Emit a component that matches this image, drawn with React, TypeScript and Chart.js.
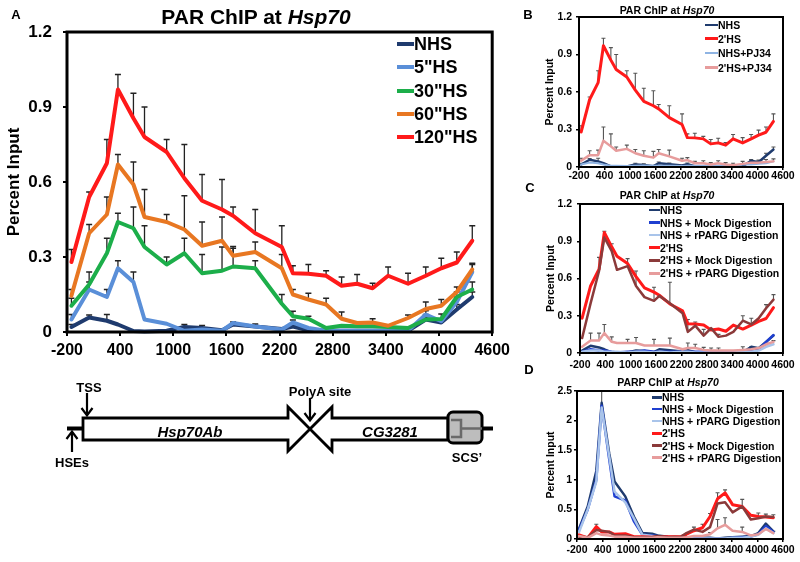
import React, { useEffect, useRef } from "react";
import { Chart, registerables } from "chart.js";

Chart.register(...registerables);

const FONT = 'Arial, "Liberation Sans", Helvetica, sans-serif';

// ---------- shared axes ----------
const positions = [-150, 50, 250, 375, 550, 675, 925, 1125, 1325, 1550, 1675, 1925, 2225, 2350, 2525, 2725, 2900, 3075, 3250, 3425, 3650, 3850, 4025, 4200, 4375];
const xTicks = [-200, 400, 1000, 1600, 2200, 2800, 3400, 4000, 4600];
const yTicksPAR = [0, 0.3, 0.6, 0.9, 1.2];
const yTicksPARP = [0, 0.5, 1, 1.5, 2, 2.5];

// ---------- Panel A (also NHS / 2'HS in B, C) ----------
const nhsA = [0.02, 0.058, 0.045, 0.03, 0.004, 0.002, 0.005, 0.02, 0.016, 0.007, 0.03, 0.022, 0.012, 0.022, 0.007, 0.005, 0.005, 0.005, 0.005, 0.005, 0.005, 0.05, 0.038, 0.09, 0.14];
const hs5A = [0.05, 0.17, 0.14, 0.255, 0.2, 0.05, 0.033, 0.005, 0.01, 0.005, 0.036, 0.022, 0.01, 0.038, 0.016, 0.005, 0.005, 0.005, 0.005, 0.005, 0.005, 0.07, 0.043, 0.12, 0.24];
const hs30A = [0.105, 0.19, 0.315, 0.44, 0.415, 0.34, 0.27, 0.315, 0.235, 0.245, 0.262, 0.255, 0.113, 0.063, 0.053, 0.016, 0.025, 0.023, 0.023, 0.02, 0.016, 0.05, 0.052, 0.14, 0.17];
const hs60A = [0.145, 0.395, 0.47, 0.67, 0.59, 0.46, 0.44, 0.41, 0.345, 0.365, 0.305, 0.32, 0.255, 0.15, 0.13, 0.11, 0.053, 0.036, 0.038, 0.025, 0.056, 0.092, 0.105, 0.16, 0.25];
const hs120A = [0.28, 0.54, 0.675, 0.97, 0.855, 0.78, 0.72, 0.615, 0.525, 0.49, 0.465, 0.395, 0.34, 0.235, 0.233, 0.225, 0.185, 0.193, 0.175, 0.225, 0.193, 0.225, 0.255, 0.278, 0.365];

const errNhsA = [0.01, 0.01, 0.025, 0, 0, 0, 0, 0.01, 0.01, 0, 0.01, 0.01, 0, 0.01, 0, 0, 0, 0, 0, 0, 0, 0.01, 0.01, 0.02, 0.02];
const err5A = [0.02, 0.03, 0.03, 0.03, 0.04, 0, 0, 0, 0, 0, 0, 0, 0, 0.01, 0, 0, 0, 0, 0, 0, 0, 0.015, 0.01, 0.02, 0.03];
const err30A = [0.03, 0.05, 0.06, 0.035, 0.085, 0.085, 0.03, 0.06, 0.075, 0.095, 0.08, 0.03, 0.037, 0.02, 0.01, 0, 0, 0, 0, 0, 0, 0.02, 0.02, 0.02, 0.03];
const err60A = [0.025, 0.035, 0.07, 0.04, 0.09, 0.11, 0.03, 0.135, 0.095, 0.095, 0.03, 0.04, 0.055, 0.02, 0.025, 0.025, 0.027, 0, 0.015, 0, 0.012, 0.028, 0.025, 0.02, 0.025];
const err120A = [0.05, 0.02, 0.095, 0.06, 0.1, 0.12, 0.05, 0.135, 0.105, 0.12, 0.035, 0.095, 0.085, 0.03, 0.037, 0.02, 0.035, 0.037, 0.02, 0.035, 0.042, 0.035, 0.04, 0.042, 0.06];

// ---------- Panel B ----------
const nhsPJ34 = [0.02, 0.035, 0.03, 0.02, 0.01, 0.01, 0.008, 0.01, 0.012, 0.01, 0.01, 0.01, 0.008, 0.01, 0.01, 0.01, 0.01, 0.01, 0.008, 0.01, 0.02, 0.02, 0.025, 0.03, 0.045];
const hsPJ34 = [0.05, 0.095, 0.095, 0.21, 0.165, 0.13, 0.145, 0.11, 0.09, 0.075, 0.11, 0.085, 0.05, 0.055, 0.03, 0.03, 0.02, 0.03, 0.02, 0.015, 0.025, 0.035, 0.035, 0.04, 0.045];
const errPJ34 = [0.02, 0.035, 0.04, 0.11, 0.1, 0.03, 0.03, 0.03, 0.04, 0.05, 0.03, 0.05, 0.02, 0.02, 0.015, 0.02, 0.015, 0.02, 0.015, 0.015, 0.02, 0.02, 0.02, 0.02, 0.02];

// ---------- Panel C ----------
const nhsMockC = [0.01, 0.03, 0.02, 0.02, 0.01, 0.005, 0.01, 0.01, 0.02, 0.01, 0.01, 0.01, 0.01, 0.01, 0.01, 0.01, 0.01, 0.005, 0.01, 0.01, 0.01, 0.02, 0.03, 0.09, 0.145];
const nhsRpargC = [0.01, 0.02, 0.02, 0.01, 0.01, 0.01, 0.005, 0.01, 0.01, 0.005, 0.01, 0.005, 0.01, 0.01, 0.005, 0.005, 0.005, 0.005, 0.005, 0.005, 0.01, 0.01, 0.02, 0.05, 0.07];
const hsMockC = [0.12, 0.4, 0.66, 0.93, 0.82, 0.67, 0.7, 0.54, 0.45, 0.42, 0.46, 0.4, 0.32, 0.17, 0.22, 0.14, 0.2, 0.13, 0.14, 0.17, 0.26, 0.23, 0.28, 0.36, 0.43];
const errMockC = [0, 0, 0.11, 0.05, 0.06, 0, 0.06, 0.12, 0, 0.11, 0, 0.17, 0, 0.1, 0.03, 0.05, 0, 0.02, 0, 0, 0.04, 0.05, 0, 0.03, 0.04];
const hsRpargC = [0.05, 0.1, 0.1, 0.16, 0.09, 0.08, 0.08, 0.08, 0.06, 0.06, 0.06, 0.06, 0.03, 0.04, 0.04, 0.025, 0.02, 0.02, 0.02, 0.02, 0.025, 0.03, 0.04, 0.07, 0.09];
const errRpargC = [0, 0.06, 0.06, 0.07, 0.04, 0, 0.03, 0.045, 0, 0.05, 0, 0.06, 0, 0.04, 0.03, 0.02, 0.02, 0.02, 0, 0, 0.025, 0.02, 0, 0.01, 0.01];

// ---------- Panel D ----------
const nhsD = [0.18, 0.55, 1.15, 2.3, 1.45, 0.97, 0.72, 0.38, 0.1, 0.09, 0.06, 0.04, 0.03, 0.02, 0.02, 0.02, 0.02, 0.01, 0.02, 0.03, 0.04, 0.05, 0.1, 0.26, 0.13];
const errNhsD = [0, 0, 0, 0.2, 0, 0, 0, 0, 0, 0, 0, 0, 0, 0, 0, 0, 0, 0, 0, 0, 0, 0, 0, 0, 0];
const nhsMockD = [0.16, 0.5, 1.0, 2.25, 1.35, 0.72, 0.65, 0.3, 0.07, 0.06, 0.05, 0.03, 0.02, 0.02, 0.01, 0.01, 0.01, 0.01, 0.01, 0.02, 0.03, 0.04, 0.08, 0.22, 0.12];
const nhsRpargD = [0.12, 0.5, 0.97, 2.22, 1.4, 0.8, 0.62, 0.35, 0.07, 0.05, 0.04, 0.03, 0.02, 0.02, 0.01, 0.01, 0.01, 0.01, 0.01, 0.02, 0.02, 0.04, 0.07, 0.18, 0.1];
const hsD = [0.07, 0.02, 0.21, 0.12, 0.12, 0.08, 0.09, 0.04, 0.04, 0.03, 0.04, 0.04, 0.04, 0.08, 0.14, 0.19, 0.38, 0.68, 0.78, 0.58, 0.55, 0.4, 0.38, 0.37, 0.36];
const errHsD = [0, 0, 0.04, 0, 0, 0, 0, 0, 0, 0, 0, 0, 0, 0, 0.06, 0.06, 0.05, 0.1, 0.05, 0, 0.12, 0, 0.06, 0.05, 0.05];
const hsMockD = [0.04, 0.03, 0.15, 0.14, 0.12, 0.06, 0.06, 0.03, 0.03, 0.03, 0.05, 0.03, 0.04, 0.1, 0.16, 0.12, 0.2, 0.6, 0.62, 0.45, 0.55, 0.33, 0.35, 0.38, 0.37];
const hsRpargD = [0.05, 0.02, 0.1, 0.07, 0.06, 0.04, 0.04, 0.02, 0.02, 0.02, 0.03, 0.02, 0.02, 0.03, 0.05, 0.05, 0.08, 0.18, 0.24, 0.14, 0.12, 0.06, 0.08, 0.17, 0.1];
const errRpargD = [0, 0, 0, 0, 0, 0, 0, 0, 0, 0, 0, 0, 0, 0, 0, 0, 0.03, 0.15, 0.12, 0, 0.08, 0, 0, 0.03, 0.03];

// ---------- colours ----------
const C_NAVY = "#1f3b6e";
const C_LBLUE = "#5a8fd8";
const C_GREEN = "#1cae4a";
const C_ORANGE = "#e87722";
const C_RED = "#ff1a1a";
const C_PJLIGHT = "#8fb4e3";
const C_PINK = "#e79c9c";
const C_MOCKBLUE = "#1f3fd0";
const C_RPARGLIGHT = "#a9c4ea";
const C_BROWN = "#8b3a3a";

type Series = { label: string; data: number[]; color: string; width: number; err?: number[] };

const errorBarsPlugin = {
  id: "errorBars",
  beforeDatasetsDraw(chart: any, _args: any, opts: any) {
    const ctx = chart.ctx;
    const ys = chart.scales.y;
    chart.data.datasets.forEach((ds: any, di: number) => {
      if (!ds.err) return;
      const meta = chart.getDatasetMeta(di);
      ctx.save();
      ctx.strokeStyle = opts.color;
      ctx.lineWidth = opts.width;
      ds.err.forEach((e: number, i: number) => {
        if (!e) return;
        const pt = meta.data[i];
        const v = ds.data[i].y;
        const yTop = ys.getPixelForValue(v + e);
        ctx.beginPath();
        ctx.moveTo(pt.x, pt.y);
        ctx.lineTo(pt.x, yTop);
        ctx.moveTo(pt.x - opts.cap, yTop);
        ctx.lineTo(pt.x + opts.cap, yTop);
        ctx.stroke();
      });
      ctx.restore();
    });
  },
};

const framePlugin = {
  id: "frame",
  afterDraw(chart: any, _args: any, opts: any) {
    const { left, top, right, bottom } = chart.chartArea;
    const ctx = chart.ctx;
    ctx.save();
    ctx.strokeStyle = "#000";
    ctx.lineWidth = opts.width;
    ctx.strokeRect(left, top, right - left, bottom - top);
    ctx.restore();
  },
};

type PanelCfg = {
  canvas: { x: number; y: number; w: number; h: number };
  plot: { l: number; t: number; r: number; b: number };
  series: Series[];
  yTicks: number[];
  xFont: number;
  yFont: number;
  xPad: number;
  yPad: number;
  tickLen: number;
  tickWidth: number;
  yTitleFont: number;
  yTitlePad: number;
  frameWidth: number;
  errColor: string;
  errWidth: number;
  cap: number;
};

function buildConfig(p: PanelCfg): any {
  const { canvas, plot } = p;
  const yAxisW = plot.l - canvas.x;
  const padTop = plot.t - canvas.y;
  const padRight = canvas.x + canvas.w - plot.r;
  const xAxisH = canvas.y + canvas.h - plot.b;
  const n = p.series.length;
  return {
    type: "line",
    data: {
      datasets: p.series.map((s, si) => ({
        label: s.label,
        data: positions.map((x, i) => ({ x, y: s.data[i] })),
        borderColor: s.color,
        backgroundColor: s.color,
        borderWidth: s.width,
        pointRadius: 0,
        pointHoverRadius: 0,
        tension: 0,
        fill: false,
        borderJoinStyle: "round",
        borderCapStyle: "round",
        clip: 10,
        order: n - 1 - si,
        err: s.err,
      })),
    },
    options: {
      responsive: false,
      animation: false,
      devicePixelRatio: 1,
      events: [],
      layout: { padding: { left: 0, top: padTop, right: padRight, bottom: 0 } },
      plugins: {
        legend: { display: false },
        tooltip: { enabled: false },
        title: { display: false },
        errorBars: { color: p.errColor, width: p.errWidth, cap: p.cap },
        frame: { width: p.frameWidth },
      },
      scales: {
        x: {
          type: "linear",
          min: xTicks[0],
          max: xTicks[xTicks.length - 1],
          afterBuildTicks: (s: any) => {
            s.ticks = xTicks.map((v) => ({ value: v }));
          },
          afterFit: (s: any) => {
            s.height = xAxisH;
          },
          ticks: {
            autoSkip: false,
            maxRotation: 0,
            minRotation: 0,
            color: "#000",
            padding: p.xPad,
            font: { family: FONT, size: p.xFont, weight: "bold" },
            callback: (v: any) => String(v),
          },
          grid: { display: true, drawOnChartArea: false, drawTicks: true, tickLength: p.tickLen, color: "#000", lineWidth: p.tickWidth },
          border: { display: false },
        },
        y: {
          type: "linear",
          min: 0,
          max: p.yTicks[p.yTicks.length - 1],
          afterBuildTicks: (s: any) => {
            s.ticks = p.yTicks.map((v) => ({ value: v }));
          },
          afterFit: (s: any) => {
            s.width = yAxisW;
          },
          ticks: {
            color: "#000",
            padding: p.yPad,
            font: { family: FONT, size: p.yFont, weight: "bold" },
            callback: (v: any) => String(v),
          },
          title: {
            display: true,
            text: "Percent Input",
            color: "#000",
            font: { family: FONT, size: p.yTitleFont, weight: "bold" },
            padding: { top: p.yTitlePad, bottom: 0 },
          },
          grid: { display: true, drawOnChartArea: false, drawTicks: true, tickLength: p.tickLen, color: "#000", lineWidth: p.tickWidth },
          border: { display: false },
        },
      },
    },
    plugins: [errorBarsPlugin, framePlugin],
  };
}

function ChartPanel({ cfg }: { cfg: PanelCfg }) {
  const ref = useRef<HTMLCanvasElement | null>(null);
  useEffect(() => {
    const chart = new Chart(ref.current as HTMLCanvasElement, buildConfig(cfg));
    return () => chart.destroy();
  }, []);
  const { x, y, w, h } = cfg.canvas;
  return <canvas ref={ref} width={w} height={h} style={{ position: "absolute", left: x, top: y, width: w, height: h }} />;
}

function Txt(props: { x: number; y: number; size: number; children: any; align?: "center" | "left"; italic?: boolean }) {
  const { x, y, size, children, align = "center", italic = false } = props;
  return (
    <div
      style={{
        position: "absolute",
        left: x,
        top: y,
        transform: align === "center" ? "translate(-50%,-50%)" : "translate(0,-50%)",
        fontSize: size,
        fontWeight: "bold",
        fontStyle: italic ? "italic" : "normal",
        whiteSpace: "nowrap",
        lineHeight: 1,
        color: "#000",
        fontFamily: FONT,
      }}
    >
      {children}
    </div>
  );
}

function Legend(props: { series: Series[]; x1: number; x2: number; ys: number[]; size: number }) {
  const { series, x1, x2, ys, size } = props;
  return (
    <>
      {series.map((s, i) => (
        <React.Fragment key={i}>
          <div style={{ position: "absolute", left: x1, top: ys[i] - s.width / 2, width: x2 - x1, height: s.width, background: s.color }} />
          <Txt x={x2} y={ys[i]} size={size} align="left">
            {s.label}
          </Txt>
        </React.Fragment>
      ))}
    </>
  );
}

const seriesA: Series[] = [
  { label: "NHS", data: nhsA, color: C_NAVY, width: 4, err: errNhsA },
  { label: '5"HS', data: hs5A, color: C_LBLUE, width: 4, err: err5A },
  { label: '30"HS', data: hs30A, color: C_GREEN, width: 4, err: err30A },
  { label: '60"HS', data: hs60A, color: C_ORANGE, width: 4, err: err60A },
  { label: '120"HS', data: hs120A, color: C_RED, width: 4, err: err120A },
];

const seriesB: Series[] = [
  { label: "NHS", data: nhsA, color: C_NAVY, width: 2.5, err: errNhsA },
  { label: "2'HS", data: hs120A, color: C_RED, width: 3, err: err120A },
  { label: "NHS+PJ34", data: nhsPJ34, color: C_PJLIGHT, width: 2 },
  { label: "2'HS+PJ34", data: hsPJ34, color: C_PINK, width: 2.5, err: errPJ34 },
];

const seriesC: Series[] = [
  { label: "NHS", data: nhsA, color: C_NAVY, width: 2.5 },
  { label: "NHS + Mock Digestion", data: nhsMockC, color: C_MOCKBLUE, width: 2.5 },
  { label: "NHS + rPARG Digestion", data: nhsRpargC, color: C_RPARGLIGHT, width: 2.5 },
  { label: "2'HS", data: hs120A, color: C_RED, width: 3 },
  { label: "2'HS + Mock Digestion", data: hsMockC, color: C_BROWN, width: 2.5, err: errMockC },
  { label: "2'HS + rPARG Digestion", data: hsRpargC, color: C_PINK, width: 2.5, err: errRpargC },
];

const seriesD: Series[] = [
  { label: "NHS", data: nhsD, color: C_NAVY, width: 2.5, err: errNhsD },
  { label: "NHS + Mock Digestion", data: nhsMockD, color: C_MOCKBLUE, width: 2.5 },
  { label: "NHS + rPARG Digestion", data: nhsRpargD, color: C_RPARGLIGHT, width: 2.5 },
  { label: "2'HS", data: hsD, color: C_RED, width: 3, err: errHsD },
  { label: "2'HS + Mock Digestion", data: hsMockD, color: C_BROWN, width: 2.5 },
  { label: "2'HS + rPARG Digestion", data: hsRpargD, color: C_PINK, width: 2.5, err: errRpargD },
];

const small = {
  xFont: 10.5,
  yFont: 10.5,
  tickLen: 3,
  tickWidth: 1.5,
  yTitleFont: 10.5,
  frameWidth: 2,
  errColor: "#555",
  errWidth: 1.1,
  cap: 2,
};

const cfgA: PanelCfg = {
  canvas: { x: 0, y: 0, w: 515, h: 368 },
  plot: { l: 67, t: 32, r: 493, b: 332 },
  series: seriesA,
  yTicks: yTicksPAR,
  xFont: 16,
  yFont: 17,
  xPad: 5,
  yPad: 11,
  tickLen: 4,
  tickWidth: 2,
  yTitleFont: 17,
  yTitlePad: 4,
  frameWidth: 3,
  errColor: "#222",
  errWidth: 1.3,
  cap: 3,
};

const cfgB: PanelCfg = {
  ...small,
  canvas: { x: 520, y: 0, w: 280, h: 185 },
  plot: { l: 579, t: 17, r: 783, b: 167 },
  series: seriesB,
  yTicks: yTicksPAR,
  xPad: 0,
  yPad: 4,
  yTitlePad: 24,
};

const cfgC: PanelCfg = {
  ...small,
  canvas: { x: 520, y: 186, w: 280, h: 190 },
  plot: { l: 580, t: 204, r: 783, b: 353 },
  series: seriesC,
  yTicks: yTicksPAR,
  xPad: 3,
  yPad: 5,
  yTitlePad: 25,
};

const cfgD: PanelCfg = {
  ...small,
  canvas: { x: 520, y: 372, w: 280, h: 190 },
  plot: { l: 577, t: 391, r: 783, b: 539 },
  series: seriesD,
  yTicks: yTicksPARP,
  xPad: 2,
  yPad: 2,
  yTitlePad: 25,
};

function GeneDiagram() {
  const o = 360;
  return (
    <svg width={510} height={120} style={{ position: "absolute", left: 0, top: o }}>
      <line x1={67} y1={68.5} x2={84} y2={68.5} stroke="#000" strokeWidth={4} />
      <line x1={480} y1={68.5} x2={493} y2={68.5} stroke="#000" strokeWidth={4} />
      <polygon points="83,58 288,58 288,47 310,69 288,91 288,80 83,80" fill="#fff" stroke="#000" strokeWidth={2.8} strokeLinejoin="miter" />
      <polygon points="448,58 332,58 332,47 310,69 332,91 332,80 448,80" fill="#fff" stroke="#000" strokeWidth={2.8} strokeLinejoin="miter" />
      <rect x={448} y={52} width={34} height={31} rx={5} fill="#bdbdbd" stroke="#000" strokeWidth={3} />
      <path d="M451 60 L461 60 L461 77 L451 77 M461 68.5 L482 68.5" fill="none" stroke="#6a6a6a" strokeWidth={2.5} />
      {/* TSS arrow */}
      <line x1={87} y1={33} x2={87} y2={55} stroke="#000" strokeWidth={2.2} />
      <polyline points="81.5,48 87,55.5 92.5,48" fill="none" stroke="#000" strokeWidth={2.2} />
      {/* HSEs arrow */}
      <line x1={72} y1={92} x2={72} y2={72} stroke="#000" strokeWidth={2.2} />
      <polyline points="66.5,79 72,71.5 77.5,79" fill="none" stroke="#000" strokeWidth={2.2} />
      {/* PolyA arrow */}
      <line x1={310} y1={38} x2={310} y2={60} stroke="#000" strokeWidth={2.2} />
      <polyline points="304.5,53 310,60.5 315.5,53" fill="none" stroke="#000" strokeWidth={2.2} />
      <g fontFamily={FONT} fontWeight="bold" fill="#000" textAnchor="middle" dominantBaseline="central">
        <text x={89} y={27} fontSize={13}>TSS</text>
        <text x={72} y={102} fontSize={13}>HSEs</text>
        <text x={320} y={31} fontSize={13}>PolyA site</text>
        <text x={467} y={97} fontSize={13}>SCS’</text>
        <text x={190} y={71} fontSize={15} fontStyle="italic">Hsp70Ab</text>
        <text x={390} y={71} fontSize={15} fontStyle="italic">CG3281</text>
      </g>
    </svg>
  );
}

export default function App() {
  return (
    <div style={{ position: "absolute", left: 0, top: 0, width: 800, height: 562, background: "#fff", overflow: "hidden", fontFamily: FONT }}>
      <ChartPanel cfg={cfgA} />
      <ChartPanel cfg={cfgB} />
      <ChartPanel cfg={cfgC} />
      <ChartPanel cfg={cfgD} />

      {/* Panel A text */}
      <Txt x={16} y={14} size={13}>A</Txt>
      <Txt x={256} y={16} size={21}>
        PAR ChIP at <i>Hsp70</i>
      </Txt>
      <Legend series={seriesA} x1={397} x2={414} ys={[44, 67, 91, 114, 137]} size={18} />

      {/* Panel B text */}
      <Txt x={528} y={14} size={13}>B</Txt>
      <Txt x={667} y={10} size={10.5}>
        PAR ChIP at <i>Hsp70</i>
      </Txt>
      <Legend series={seriesB} x1={705} x2={718} ys={[25, 38.5, 53, 67.5]} size={10.5} />

      {/* Panel C text */}
      <Txt x={530} y={187} size={13}>C</Txt>
      <Txt x={667} y={195} size={10.5}>
        PAR ChIP at <i>Hsp70</i>
      </Txt>
      <Legend series={seriesC} x1={649} x2={660} ys={[210, 222.7, 235, 247.7, 260.3, 273.3]} size={10.5} />

      {/* Panel D text */}
      <Txt x={529} y={369} size={13}>D</Txt>
      <Txt x={668} y={382} size={10.5}>
        PARP ChIP at <i>Hsp70</i>
      </Txt>
      <Legend series={seriesD} x1={652} x2={662} ys={[397.3, 409, 421, 433.3, 445.7, 457.7]} size={10.5} />

      <GeneDiagram />
    </div>
  );
}
